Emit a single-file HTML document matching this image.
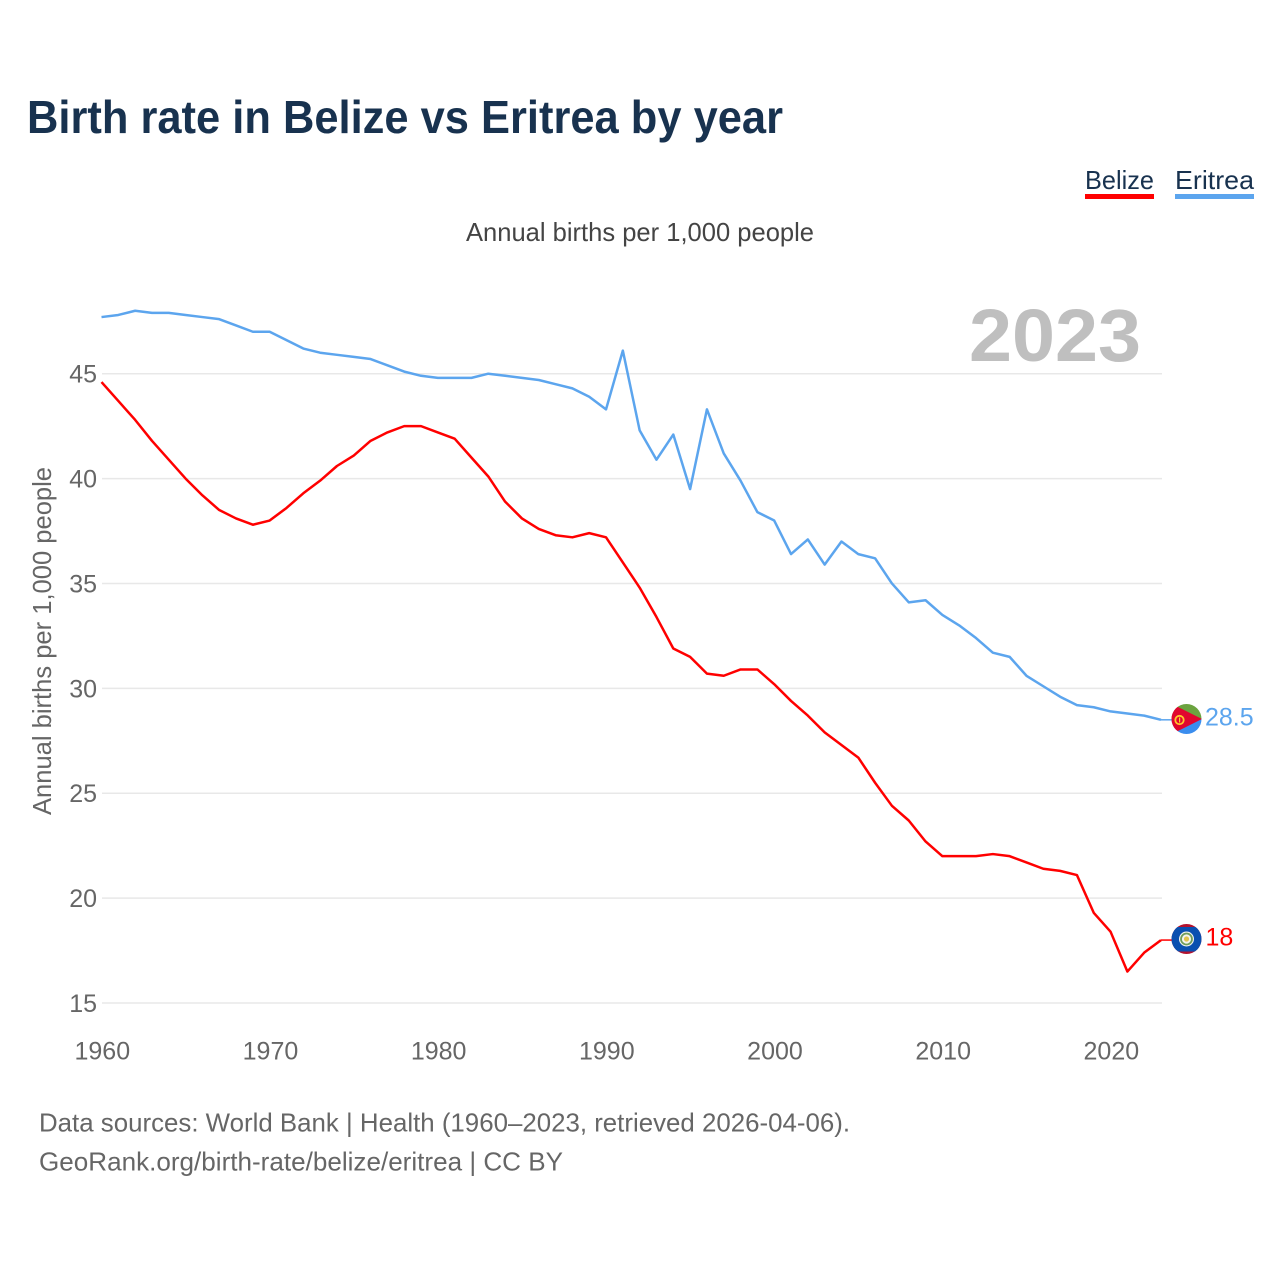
<!DOCTYPE html>
<html lang="en">
<head>
<meta charset="utf-8">
<title>Birth rate in Belize vs Eritrea by year</title>
<style>
html,body{margin:0;padding:0;background:#fff;}
svg{display:block;font-family:"Liberation Sans",sans-serif;}
</style>
</head>
<body>
<svg id="chart" width="1280" height="1280" viewBox="0 0 1280 1280" xmlns="http://www.w3.org/2000/svg">
  <defs>
    <clipPath id="clip-er"><circle cx="1186.5" cy="719" r="15"/></clipPath>
    <clipPath id="clip-bz"><circle cx="1186.5" cy="939" r="15"/></clipPath>
  </defs>
  <text x="27" y="133" font-size="46" font-weight="700" fill="#18324f" textLength="756" lengthAdjust="spacingAndGlyphs">Birth rate in Belize vs Eritrea by year</text>

  <g>
    <text x="1085" y="189" font-size="26" fill="#18324f" textLength="69" lengthAdjust="spacingAndGlyphs">Belize</text>
    <rect x="1085" y="194" width="69" height="5" fill="#ff0000"/>
  </g>
  <g>
    <text x="1175" y="189" font-size="26" fill="#18324f" textLength="79" lengthAdjust="spacingAndGlyphs">Eritrea</text>
    <rect x="1175" y="194" width="79" height="5" fill="#5ca5ee"/>
  </g>

  <text x="466" y="241" font-size="26" fill="#444" textLength="348" lengthAdjust="spacingAndGlyphs">Annual births per 1,000 people</text>
  <text transform="translate(51,815) rotate(-90)" x="0" y="0" font-size="26" fill="#666" textLength="348" lengthAdjust="spacingAndGlyphs">Annual births per 1,000 people</text>
  <text x="969" y="361" font-size="74" font-weight="700" fill="#bfbfbf" textLength="172" lengthAdjust="spacingAndGlyphs">2023</text>

  <g id="grid"></g>
  <g id="yticks"></g>
  <g id="xticks"></g>
  <g id="series"></g>

  <g clip-path="url(#clip-er)">
    <rect x="1171" y="704" width="31" height="15" fill="#6ba33f"/>
    <rect x="1171" y="719" width="31" height="15" fill="#3a8dee"/>
    <polygon points="1166,701 1166,737 1202,719" fill="#e1062f"/>
    <circle cx="1179.5" cy="720" r="4.2" fill="none" stroke="#ffc72c" stroke-width="1.8"/>
    <rect x="1179" y="717.5" width="1.2" height="5" fill="#ffc72c"/>
  </g>
  <g clip-path="url(#clip-bz)">
    <rect x="1171" y="924" width="31" height="30" fill="#b3122f"/>
    <rect x="1171" y="927" width="31" height="24.5" fill="#0a4fb0"/>
    <circle cx="1186.5" cy="939" r="7.5" fill="#f3f3ee"/>
    <circle cx="1186.5" cy="939" r="5.5" fill="none" stroke="#6f9c5a" stroke-width="1.8"/>
    <circle cx="1186.5" cy="939" r="2.6" fill="#e3c34e"/>
  </g>

  <text id="label-er" x="1205" y="725.5" font-size="25" fill="#5ca5ee"></text>
  <text id="label-bz" x="1205.5" y="945.5" font-size="25" fill="#ff0000"></text>

  <text x="39" y="1131.5" font-size="26" fill="#666" textLength="811" lengthAdjust="spacingAndGlyphs">Data sources: World Bank | Health (1960–2023, retrieved 2026-04-06).</text>
  <text x="39" y="1170.5" font-size="26" fill="#666" textLength="524" lengthAdjust="spacingAndGlyphs">GeoRank.org/birth-rate/belize/eritrea | CC BY</text>
</svg>
<script>
var startYear = 1960;
var yTickValues = [15, 20, 25, 30, 35, 40, 45];
var xTickValues = [1960, 1970, 1980, 1990, 2000, 2010, 2020];
var eritreaValues = [47.7,47.8,48.0,47.9,47.9,47.8,47.7,47.6,47.3,47.0,47.0,46.6,46.2,46.0,45.9,45.8,45.7,45.4,45.1,44.9,44.8,44.8,44.8,45.0,44.9,44.8,44.7,44.5,44.3,43.9,43.3,46.1,42.3,40.9,42.1,39.5,43.3,41.2,39.9,38.4,38.0,36.4,37.1,35.9,37.0,36.4,36.2,35.0,34.1,34.2,33.5,33.0,32.4,31.7,31.5,30.6,30.1,29.6,29.2,29.1,28.9,28.8,28.7,28.5];
var belizeValues = [44.6,43.7,42.8,41.8,40.9,40.0,39.2,38.5,38.1,37.8,38.0,38.6,39.3,39.9,40.6,41.1,41.8,42.2,42.5,42.5,42.2,41.9,41.0,40.1,38.9,38.1,37.6,37.3,37.2,37.4,37.2,36.0,34.8,33.4,31.9,31.5,30.7,30.6,30.9,30.9,30.2,29.4,28.7,27.9,27.3,26.7,25.5,24.4,23.7,22.7,22.0,22.0,22.0,22.1,22.0,21.7,21.4,21.3,21.1,19.3,18.4,16.5,17.4,18.0];

var NS = 'http://www.w3.org/2000/svg';
function xScale(year) { return 101.5 + (year - 1960) * (1161 - 101.5) / 63; }
function yScale(v) { return 1003 - (v - 15) * (1003 - 373.7) / 30; }
function make(tag, attrs, parent) {
  var el = document.createElementNS(NS, tag);
  for (var k in attrs) el.setAttribute(k, attrs[k]);
  parent.appendChild(el);
  return el;
}
var grid = document.getElementById('grid');
var yticks = document.getElementById('yticks');
var xticks = document.getElementById('xticks');
var series = document.getElementById('series');

yTickValues.forEach(function (v) {
  var line = make('line', {x1: 102, x2: 1162, y1: yScale(v), y2: yScale(v), stroke: '#e8e8e8', 'stroke-width': 1.5}, grid);
  
  
  var t = make('text', {x: 97, y: yScale(v) + 9, 'text-anchor': 'end', 'font-size': 25, fill: '#666'}, yticks);
  t.textContent = v;
  
  
});
xTickValues.forEach(function (y) {
  var t = make('text', {x: xScale(y) + 0.8, y: 1059.5, 'text-anchor': 'middle', 'font-size': 25, fill: '#666'}, xticks);
  t.textContent = y;
  
  
});
function points(values) {
  return values.map(function (v, i) {
    return xScale(startYear + i).toFixed(2) + ',' + yScale(v).toFixed(2);
  }).join(' ');
}
var lineEr = make('polyline', {points: points(eritreaValues), fill: 'none', stroke: '#5ca5ee', 'stroke-width': 2.5, 'stroke-linejoin': 'round'}, series);


var lineBz = make('polyline', {points: points(belizeValues), fill: 'none', stroke: '#ff0000', 'stroke-width': 2.5, 'stroke-linejoin': 'round'}, series);



var lastEr = eritreaValues[eritreaValues.length - 1];
var lastBz = belizeValues[belizeValues.length - 1];
var lastYear = startYear + eritreaValues.length - 1;
var connEr = make('line', {x1: xScale(lastYear), x2: 1172, y1: yScale(lastEr), y2: yScale(lastEr), stroke: '#5ca5ee', 'stroke-width': 1.5}, series);


var connBz = make('line', {x1: xScale(lastYear), x2: 1172, y1: yScale(lastBz), y2: yScale(lastBz), stroke: '#ff0000', 'stroke-width': 1.5}, series);


document.getElementById('label-er').textContent = lastEr;
document.getElementById('label-bz').textContent = lastBz;
</script>
</body>
</html>
